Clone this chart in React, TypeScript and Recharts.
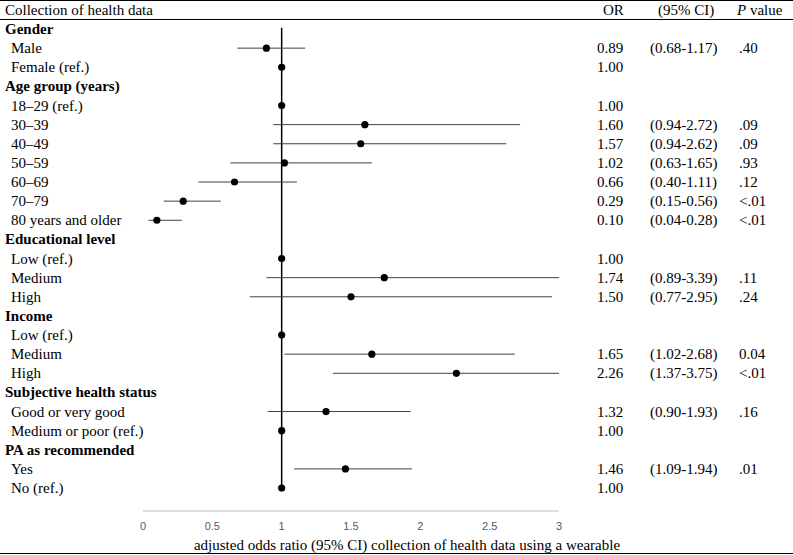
import React from "react";
import {
  ScatterChart,
  Scatter,
  XAxis,
  YAxis,
  ErrorBar,
  ReferenceLine,
  Customized,
} from "recharts";

const rowLabels = [
  "Gender", "Male", "Female (ref.)",
  "Age group (years)", "18–29 (ref.)", "30–39", "40–49", "50–59", "60–69", "70–79", "80 years and older",
  "Educational level", "Low (ref.)", "Medium", "High",
  "Income", "Low (ref.)", "Medium", "High",
  "Subjective health status", "Good or very good", "Medium or poor (ref.)",
  "PA as recommended", "Yes", "No (ref.)",
];
const headerRows = [0, 3, 11, 15, 19, 22];
const oddsRatios = [null, 0.89, 1.0, null, 1.0, 1.6, 1.57, 1.02, 0.66, 0.29, 0.1, null, 1.0, 1.74, 1.5, null, 1.0, 1.65, 2.26, null, 1.32, 1.0, null, 1.46, 1.0];
const ciLower = [null, 0.68, null, null, null, 0.94, 0.94, 0.63, 0.4, 0.15, 0.04, null, null, 0.89, 0.77, null, null, 1.02, 1.37, null, 0.9, null, null, 1.09, null];
const ciUpper = [null, 1.17, null, null, null, 2.72, 2.62, 1.65, 1.11, 0.56, 0.28, null, null, 3.39, 2.95, null, null, 2.68, 3.75, null, 1.93, null, null, 1.94, null];
const orText = ["", "0.89", "1.00", "", "1.00", "1.60", "1.57", "1.02", "0.66", "0.29", "0.10", "", "1.00", "1.74", "1.50", "", "", "1.65", "2.26", "", "1.32", "1.00", "", "1.46", "1.00"];
const pValues = ["", ".40", "", "", "", ".09", ".09", ".93", ".12", "<.01", "<.01", "", "", ".11", ".24", "", "", "0.04", "<.01", "", ".16", "", "", ".01", ""];
const xTicks = [0, 0.5, 1, 1.5, 2, 2.5, 3];
const xLabel = "adjusted odds ratio (95% CI) collection of health data using a wearable";

const X_MAX = 3;
const rowIdx = rowLabels.map((_, i) => i);

const points = oddsRatios
  .map((v, i) => {
    if (v == null) return null;
    const lo = ciLower[i];
    const hi = ciUpper[i];
    const err = lo == null || hi == null ? [0, 0] : [v - lo, Math.min(hi, X_MAX) - v];
    return { x: v, y: i, err };
  })
  .filter(Boolean);

const SERIF = "'Liberation Serif', 'Times New Roman', serif";
const SANS = "'Liberation Sans', Arial, sans-serif";

const RowTick = (props: any) => {
  const { y, payload } = props;
  const i = payload.value;
  const isHeader = headerRows.includes(i);
  const lo = ciLower[i];
  const hi = ciUpper[i];
  const ci = lo != null && hi != null ? `(${lo.toFixed(2)}-${hi.toFixed(2)})` : "";
  const by = y + 5;
  return (
    <g fontFamily={SERIF} fontSize={15} fill="#000">
      <text x={isHeader ? 5 : 11} y={by} fontWeight={isHeader ? "bold" : "normal"} fill="#000">
        {rowLabels[i]}
      </text>
      {orText[i] && (
        <text x={597} y={by} fill="#000">{orText[i]}</text>
      )}
      {ci && (
        <text x={650} y={by} fill="#000">{ci}</text>
      )}
      {pValues[i] && (
        <text x={739} y={by} fill="#000">{pValues[i]}</text>
      )}
    </g>
  );
};

const XTick = (props: any) => {
  const { x, payload } = props;
  return (
    <text x={x} y={530} textAnchor="middle" fill="#595959" fontSize={11} fontFamily={SANS}>
      {String(payload.value)}
    </text>
  );
};

const Frame = () => (
  <g>
    <line x1={0} x2={793} y1={0.5} y2={0.5} stroke="#000" strokeWidth={1} />
    <line x1={0} x2={793} y1={19.5} y2={19.5} stroke="#000" strokeWidth={1} />
    <line x1={0} x2={793} y1={553.5} y2={553.5} stroke="#000" strokeWidth={1} />
    <g fontFamily={SERIF} fontSize={15} fill="#000">
      <text x={5} y={15}>Collection of health data</text>
      <text x={603} y={15}>OR</text>
      <text x={658} y={15}>(95% CI)</text>
      <text x={737} y={15}>
        <tspan fontStyle="italic">P</tspan> value
      </text>
      <text x={407} y={550} textAnchor="middle">{xLabel}</text>
    </g>
  </g>
);

export default function App() {
  return (
    <div style={{ width: 793, height: 555 }}>
      <style>{"body{margin:0;}"}</style>
      <ScatterChart
        width={793}
        height={555}
        margin={{ top: 29, right: 234, bottom: 0, left: 0 }}
      >
        <XAxis
          type="number"
          dataKey="x"
          domain={[0, X_MAX]}
          ticks={xTicks}
          allowDataOverflow
          height={44}
          axisLine={{ stroke: "#bfbfbf" }}
          tickLine={false}
          tick={<XTick />}
          interval={0}
        />
        <YAxis
          type="number"
          dataKey="y"
          domain={[0, 25.2]}
          reversed
          ticks={rowIdx}
          interval={0}
          width={143}
          axisLine={false}
          tickLine={false}
          allowDataOverflow
          tick={<RowTick />}
        />
        <ReferenceLine
          segment={[{ x: 1, y: -0.07 }, { x: 1, y: 24.05 }]}
          stroke="#000"
          strokeWidth={1.5}
          ifOverflow="visible"
        />
        <Scatter
          data={points as any[]}
          isAnimationActive={false}
          shape={(p: any) => <circle cx={p.cx} cy={p.cy} r={3.6} fill="#000" />}
        >
          <ErrorBar dataKey="err" direction="x" width={0} stroke="#404040" strokeWidth={1} />
        </Scatter>
        <Customized component={Frame} />
      </ScatterChart>
    </div>
  );
}
